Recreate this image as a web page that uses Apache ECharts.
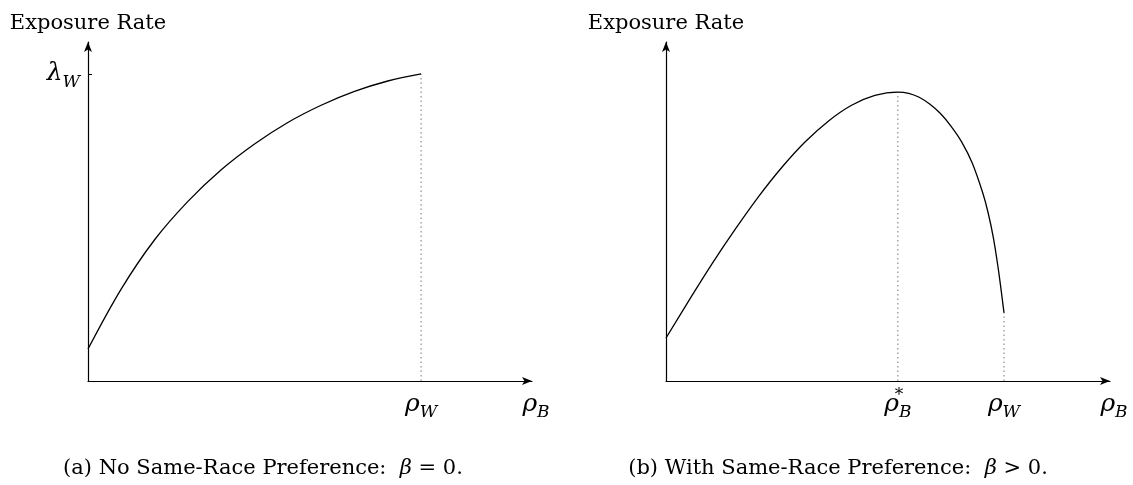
<!DOCTYPE html>
<html>
<head>
<meta charset="utf-8">
<script src="https://cdn.jsdelivr.net/npm/echarts@6/dist/echarts.min.js"></script>
<style>html,body{margin:0;padding:0;background:#fff;}#c{width:1133px;height:485px;}</style>
</head>
<body>
<div id="c"></div>
<script>
// ---- data (normalised units: rho_W = 1, lambda_W = 1) ----
const leftRho = [0, 0.1, 0.2, 0.3, 0.4, 0.5, 0.6, 0.7, 0.8, 0.9, 1.0];
const leftExposure = [0.104, 0.30, 0.46, 0.585, 0.688, 0.772, 0.842, 0.898, 0.943, 0.977, 1.0];

const rightRho = [0, 0.069, 0.137, 0.206, 0.275, 0.343, 0.412, 0.481, 0.549, 0.618, 0.686,
                  0.718, 0.749, 0.780, 0.812, 0.843, 0.875, 0.906, 0.937, 0.953, 0.969, 0.984, 1.0];
const rightExposure = [0.140, 0.264, 0.383, 0.496, 0.602, 0.696, 0.779, 0.847, 0.898, 0.930, 0.941,
                       0.937, 0.924, 0.902, 0.871, 0.830, 0.778, 0.710, 0.613, 0.548, 0.464, 0.358, 0.222];

const leftXTicks = [1];          // rho_W
const leftYTicks = [1];          // lambda_W
const rightXTicks = [0.686, 1];  // rho_B*, rho_W

const yAxisTitle = 'Exposure Rate';
const captionA = '(a) No Same-Race Preference:  {i|β} = 0.';
const captionB = '(b) With Same-Race Preference:  {i|β} > 0.';

// ---- helpers ----
const SERIF = 'DejaVu Serif';
const rich = {
  m:   {fontFamily: SERIF, fontStyle: 'italic', fontSize: 25, lineHeight: 34, color: '#000'},
  sub: {fontFamily: SERIF, fontStyle: 'italic', fontSize: 17, lineHeight: 17, verticalAlign: 'bottom', color: '#000'},
  sup: {fontFamily: SERIF, fontSize: 17, lineHeight: 17, verticalAlign: 'top', width: 0, color: '#000'}
};
const zip = (xs, ys) => xs.map((x, i) => [x, ys[i]]);
const lastIdx = leftRho.length - 1;
const rLast = rightRho.length - 1;
const peakIdx = rightExposure.indexOf(Math.max(...rightExposure));

const Y_MAX = 1.104;
const axisLineStyle = {color: '#000', width: 1.2};

function xAxisBase(grid, max) {
  return {
    gridIndex: grid, type: 'value', min: 0, max: max,
    splitLine: {show: false},
    axisTick: {show: false},
    axisLine: {show: true, lineStyle: axisLineStyle, symbol: ['none', 'arrow'], symbolSize: [6, 10]},
    name: '{m|ρ}{sub|B}',
    nameLocation: 'end', nameGap: 4,
    nameTextStyle: {align: 'center', verticalAlign: 'top', padding: [6, 0, 0, 0], rich: rich}
  };
}
function yAxisBase(grid) {
  return {
    gridIndex: grid, type: 'value', min: 0, max: Y_MAX,
    splitLine: {show: false},
    axisLine: {show: true, lineStyle: axisLineStyle, symbol: ['none', 'arrow'], symbolSize: [6, 10]},
    name: yAxisTitle, nameLocation: 'end', nameGap: 8,
    nameTextStyle: {fontFamily: SERIF, fontSize: 21, color: '#000', align: 'center'}
  };
}

const xa0 = xAxisBase(0, 1.333);
xa0.axisLabel = {customValues: leftXTicks, margin: 6, rich: rich,
  formatter: v => '{m|ρ}{sub|W}'};
const xa1 = xAxisBase(1, 1.3136);
xa1.axisLabel = {customValues: rightXTicks, margin: 6, rich: rich,
  formatter: v => (v === 1 ? '{m|ρ}{sub|W}' : '{m|ρ}{sup|*}{sub|B}')};

const ya0 = yAxisBase(0);
ya0.axisTick = {show: true, inside: true, length: 4, customValues: leftYTicks, lineStyle: {color: '#000', width: 1}};
ya0.axisLabel = {customValues: leftYTicks, margin: 8, rich: rich, formatter: v => '{m|λ}{sub|W}'};
const ya1 = yAxisBase(1);
ya1.axisTick = {show: false};
ya1.axisLabel = {show: false};

const curve = {color: '#000', width: 1.3};
const dots = {color: '#777', width: 1, type: [1.5, 3]};

const option = {
  animation: false,
  backgroundColor: '#fff',
  grid: [
    {left: 88, top: 42, width: 444, height: 339},
    {left: 666, top: 42, width: 444, height: 339}
  ],
  xAxis: [xa0, xa1],
  yAxis: [ya0, ya1],
  series: [
    {type: 'line', xAxisIndex: 0, yAxisIndex: 0, data: zip(leftRho, leftExposure),
     smooth: 0.35, symbol: 'none', lineStyle: curve, z: 3},
    {type: 'line', xAxisIndex: 0, yAxisIndex: 0,
     data: [[leftRho[lastIdx], 0], [leftRho[lastIdx], leftExposure[lastIdx]]],
     symbol: 'none', lineStyle: dots, z: 2},
    {type: 'line', xAxisIndex: 1, yAxisIndex: 1, data: zip(rightRho, rightExposure),
     smooth: 0.35, symbol: 'none', lineStyle: curve, z: 3},
    {type: 'line', xAxisIndex: 1, yAxisIndex: 1,
     data: [[rightRho[peakIdx], 0], [rightRho[peakIdx], rightExposure[peakIdx]]],
     symbol: 'none', lineStyle: dots, z: 2},
    {type: 'line', xAxisIndex: 1, yAxisIndex: 1,
     data: [[rightRho[rLast], 0], [rightRho[rLast], rightExposure[rLast]]],
     symbol: 'none', lineStyle: dots, z: 2}
  ],
  graphic: [
    {type: 'text', x: 263, y: 469, style: {text: captionA, fontFamily: SERIF, fontSize: 21, fill: '#000',
      align: 'center', verticalAlign: 'middle',
      rich: {i: {fontFamily: SERIF, fontStyle: 'italic', fontSize: 21}}}},
    {type: 'text', x: 838, y: 469, style: {text: captionB, fontFamily: SERIF, fontSize: 21, fill: '#000',
      align: 'center', verticalAlign: 'middle',
      rich: {i: {fontFamily: SERIF, fontStyle: 'italic', fontSize: 21}}}}
  ]
};

const chart = echarts.init(document.getElementById('c'), null, {renderer: 'canvas'});
chart.setOption(option);
</script>
</body>
</html>
